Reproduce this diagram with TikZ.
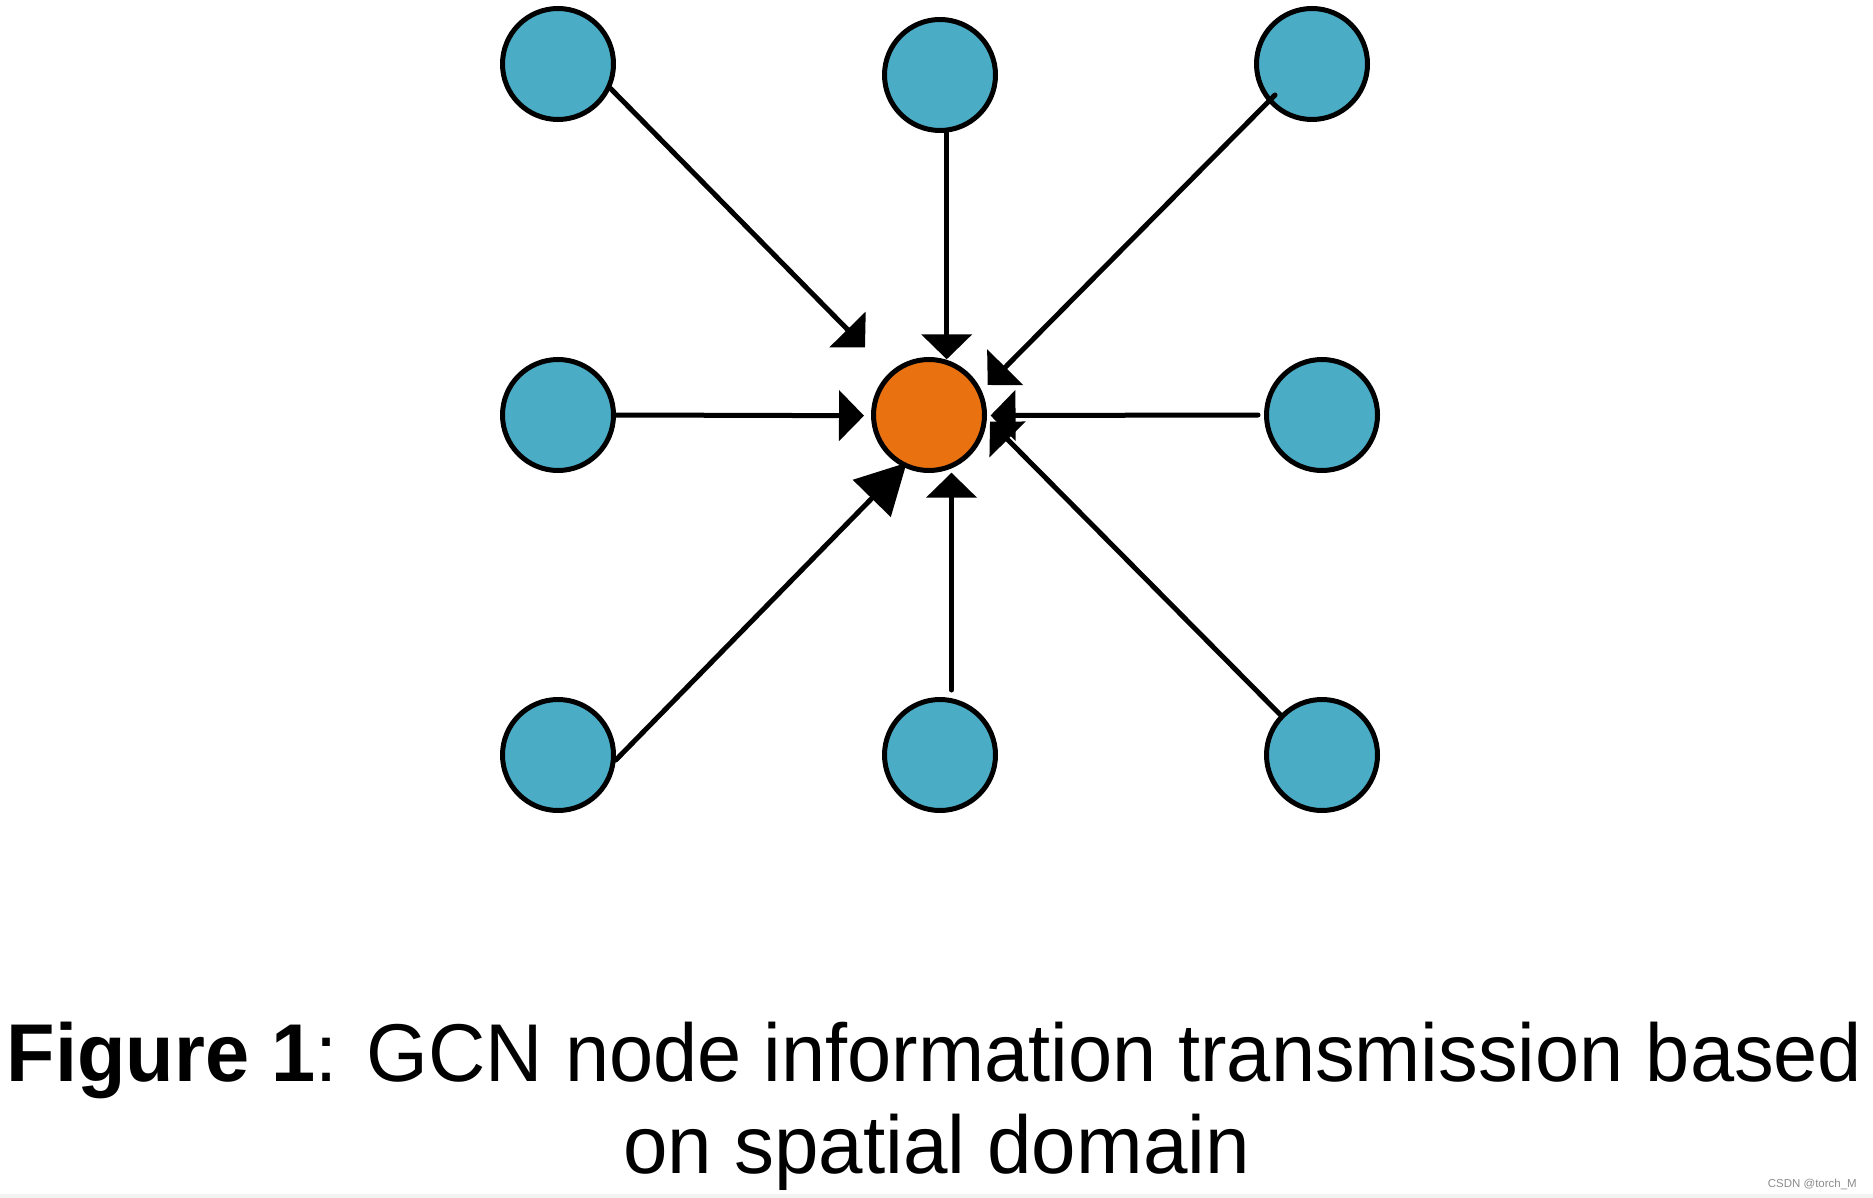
\documentclass[tikz,border=0pt]{standalone}
\usepackage{fontspec}
\setmainfont{Liberation Sans}
\usetikzlibrary{arrows.meta,calc}
\definecolor{nodeblue}{HTML}{4BACC6}
\definecolor{nodeorange}{HTML}{E9710F}
\definecolor{wmgray}{HTML}{8C8C8C}
\definecolor{bandgray}{HTML}{F3F3F3}
\begin{document}
\begin{tikzpicture}[x=1pt,y=-1pt,
  nb/.style={circle, draw=black, line width=5pt, fill=nodeblue, minimum size=111pt, inner sep=0pt},
  nc/.style={circle, draw=black, line width=5pt, fill=nodeorange, minimum size=111pt, inner sep=0pt},
  arr/.style={line width=5pt, line cap=round, -{Triangle[width=50pt,length=25pt]}},
  bigarr/.style={line width=5pt, line cap=round, -{Triangle[width=52pt,length=50pt]}},
  captext/.style={anchor=base, inner sep=0pt, font=\fontsize{82}{92}\selectfont}
]
\useasboundingbox (0,0) rectangle (1873,1198);
\fill[white] (0,0) rectangle (1873,1198);
\fill[bandgray] (0,1194) rectangle (1873,1198);

% nodes
\node[nb] (tl) at (558,64) {};
\node[nb] (tm) at (940,75) {};
\node[nb] (tr) at (1312,64) {};
\node[nb] (ml) at (558,415) {};
\node[nc] (c)  at (929,415) {};
\node[nb] (mr) at (1322,415) {};
\node[nb] (bl) at (558,755) {};
\node[nb] (bm) at (940,755) {};
\node[nb] (br) at (1322,755) {};

% free arrow tips (near the centre node)
\coordinate (tTL) at (865,347.3);
\coordinate (tTM) at (946.7,359.3);
\coordinate (tTR) at (987.7,385);
\coordinate (tML) at (864,415.7);
\coordinate (tMR) at (990.5,415.5);
\coordinate (tBR) at (990,421.7);
\coordinate (tBM) at (951.5,472.7);
\coordinate (tBL) at (906.7,462.7);

% connectors
\draw[arr] (tl.-25) -- (tTL);
\draw[arr] (tTM |- tm.south) -- (tTM);
\draw[arr] ($(tr)+(-37,31)$) -- (tTR);
\draw[arr] (ml.east) -- (tML);
\draw[arr] ($(mr.west)+(-6,0)$) -- (tMR);
\draw[arr] (br.136) -- (tBR);
\draw[arr] ($(tBM |- bm.north)+(0,-7)$) -- (tBM);
\draw[bigarr] (bl.-5) -- (tBL);

% caption
\node[captext] (cap1) at (934.5,1081) {\scalebox{0.968}[1]{\textbf{Figure 1}: GCN node information transmission based}};
\node[captext] (cap2) at (936.5,1173) {\scalebox{0.975}[1]{on spatial domain}};
\node[anchor=base east, inner sep=0pt, text=wmgray, font=\fontsize{11.5}{12}\selectfont] (wm) at (1857,1187) {CSDN @torch\_M};
\end{tikzpicture}
\end{document}
